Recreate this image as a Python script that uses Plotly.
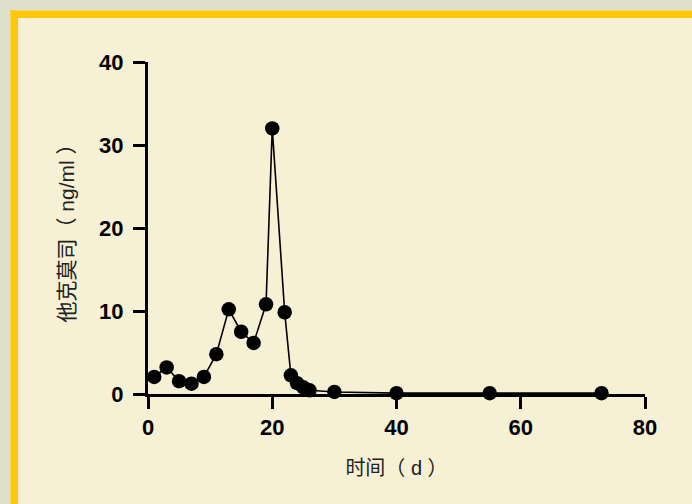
import plotly.graph_objects as go

days = [1, 3, 5, 7, 9, 11, 13, 15, 17, 19, 20, 22, 23, 24, 25, 26, 30, 40, 55, 73]
conc = [2.05, 3.2, 1.55, 1.25, 2.05, 4.8, 10.2, 7.5, 6.15, 10.8, 32.0, 9.85, 2.25, 1.3, 0.8, 0.45, 0.25, 0.1, 0.1, 0.1]
x_ticks = [0, 20, 40, 60, 80]
y_ticks = [0, 10, 20, 30, 40]

W, H = 692, 504
L, R, T, B = 148, 47, 62, 110
pw, ph = W - L - R, H - T - B

def px(x):
    return (x - L) / pw

def py(y):
    return (H - B - y) / ph

fig = go.Figure()
fig.add_trace(go.Scatter(
    x=days, y=conc, mode="lines+markers",
    line=dict(color="black", width=1.6),
    marker=dict(color="black", size=14.5),
    cliponaxis=False, showlegend=False,
))

outer = "#dfe0c9"
gold = "#fdc80a"
cream = "#f6f0d4"
shapes = [
    dict(type="rect", xref="paper", yref="paper", x0=px(0), x1=px(W), y0=py(10.5), y1=py(0),
         fillcolor=outer, line=dict(width=0), layer="below"),
    dict(type="rect", xref="paper", yref="paper", x0=px(0), x1=px(10.5), y0=py(H), y1=py(0),
         fillcolor=outer, line=dict(width=0), layer="below"),
    dict(type="rect", xref="paper", yref="paper", x0=px(10.5), x1=px(W), y0=py(18), y1=py(10.5),
         fillcolor=gold, line=dict(width=0), layer="below"),
    dict(type="rect", xref="paper", yref="paper", x0=px(10.5), x1=px(18), y0=py(H), y1=py(10.5),
         fillcolor=gold, line=dict(width=0), layer="below"),
]

tickfont = dict(family="Liberation Sans, Arial, sans-serif", size=22, color="black", weight="bold")
titlefont = dict(family="Liberation Sans, Noto Sans CJK SC, sans-serif", size=20, color="#222222")
ytitlefont = dict(family="Liberation Sans, Noto Sans CJK SC, sans-serif", size=21, color="#222222")

fig.update_layout(
    width=W, height=H,
    margin=dict(l=L, r=R, t=T, b=B, pad=0),
    paper_bgcolor=cream, plot_bgcolor=cream,
    shapes=shapes,
    xaxis=dict(
        range=[0, 80], tickvals=x_ticks, ticktext=[str(v) for v in x_ticks],
        showline=True, linecolor="black", linewidth=3,
        ticks="outside", ticklen=12, tickwidth=3, tickcolor="black",
        showgrid=False, zeroline=False, tickfont=tickfont,
        title=dict(text="时间（ d ）", font=titlefont, standoff=22),
    ),
    yaxis=dict(
        range=[0, 40], tickvals=y_ticks, ticktext=[str(v) for v in y_ticks],
        showline=True, linecolor="black", linewidth=3,
        ticks="outside", ticklen=12, tickwidth=3, tickcolor="black",
        showgrid=False, zeroline=False, tickfont=tickfont, ticklabelstandoff=5,
        title=dict(text="他克莫司（ ng/ml ）", font=ytitlefont, standoff=19),
    ),
)

fig.write_html("out.html", config={"displayModeBar": False},
               post_script="document.body.style.margin='0';document.body.style.overflow='hidden';")
